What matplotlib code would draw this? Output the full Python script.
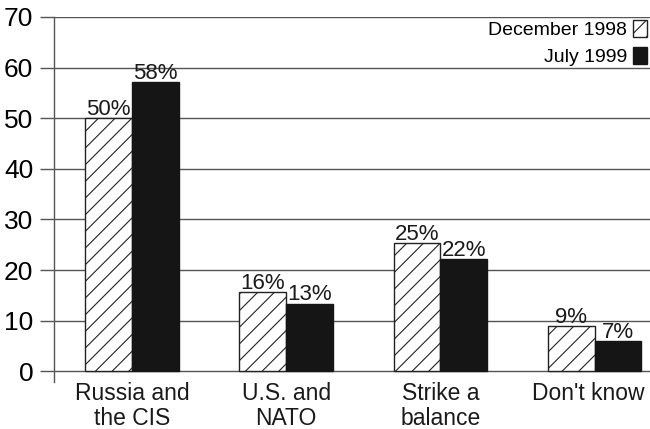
import numpy as np
import matplotlib.pyplot as plt
import matplotlib.transforms as mtransforms

plt.rcParams['font.family'] = ['Liberation Sans', 'DejaVu Sans']
plt.rcParams['hatch.linewidth'] = 0.8

categories = ["Russia and\nthe CIS", "U.S. and\nNATO", "Strike a\nbalance", "Don't know"]
series_names = ["December 1998", "July 1999"]
# bar heights as drawn in the picture
dec_1998 = [50, 15.7, 25.4, 8.9]
jul_1999 = [57.1, 13.4, 22.2, 6.0]
# printed labels
dec_labels = ["50%", "16%", "25%", "9%"]
jul_labels = ["58%", "13%", "22%", "7%"]

fig = plt.figure(figsize=(6.5, 4.29), dpi=100)
ax = fig.add_axes([0.0831, 0.1096, 0.9169, 0.8508])

x = np.arange(len(categories))
w = 0.303
b1 = ax.bar(x - w / 2, dec_1998, w, color='white', edgecolor='#222222',
            hatch='//', linewidth=1, label=series_names[0], zorder=3)
b2 = ax.bar(x + w / 2, jul_1999, w, color='#151515', edgecolor='#151515',
            linewidth=1, label=series_names[1], zorder=3)

for bars, vals, labs in [(b1, dec_1998, dec_labels), (b2, jul_1999, jul_labels)]:
    for rect, v, lab in zip(bars, vals, labs):
        ax.text(rect.get_x() + rect.get_width() / 2, v + 0.6, lab,
                ha='center', va='baseline', fontsize=16, color='#1a1a1a', zorder=4)

ax.set_xlim(-0.506, 3.36)
ax.set_ylim(-2.1, 70)
ax.set_yticks(range(0, 71, 10))
ax.set_yticklabels([str(t) for t in range(0, 71, 10)], fontsize=19)
ax.tick_params(axis='y', length=10, width=1, color='#555555', pad=5)
ax.grid(axis='y', color='#555555', linewidth=1, zorder=0)
ax.set_axisbelow(True)

ax.set_xticks(x)
ax.set_xticklabels(categories, fontsize=16.5, color='#1a1a1a', linespacing=1.13)
ax.tick_params(axis='x', length=0, pad=0)
# last label sits a bit left so it stays inside the picture
last = ax.get_xticklabels()[-1]
last.set_transform(last.get_transform() +
                   mtransforms.ScaledTranslation(-6 / 100, 0, fig.dpi_scale_trans))

for s in ['top', 'right', 'bottom']:
    ax.spines[s].set_visible(False)
ax.spines['left'].set_color('#555555')
ax.spines['left'].set_linewidth(1)

ax.legend(loc='upper right', bbox_to_anchor=(1.0, 1.0), frameon=False,
          markerfirst=False, fontsize=14, handlelength=0.72, handleheight=0.95,
          handletextpad=0.3, labelspacing=0.4, borderpad=0.1, borderaxespad=0.05)

fig.savefig("out.png", dpi=100)
